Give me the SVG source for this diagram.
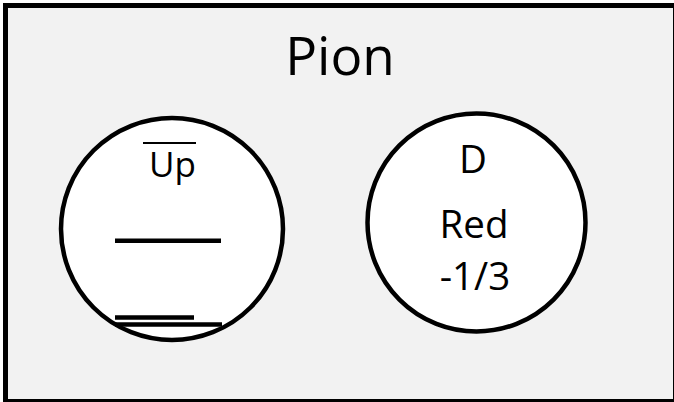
<svg xmlns="http://www.w3.org/2000/svg" width="674" height="402" viewBox="0 0 674 402">
<style>
.frame{fill:#f2f2f2;stroke:#000;stroke-width:5}
.q{fill:#fff;stroke:#000;stroke-width:4.5}
.t{font-family:"Open Sans","Noto Sans","Liberation Sans",sans-serif;fill:#000;text-anchor:middle}
.bar{stroke:#000;stroke-width:4.5;stroke-linecap:butt}
</style>
<g id="pion">
<rect class="frame" x="5.5" y="5.5" width="670" height="396"/>
<text class="t" x="340" y="74.5" font-size="53">Pion</text>
</g>
<g id="anti-up">
<circle class="q" cx="172" cy="229" r="111"/>
<text class="t" x="172.5" y="176.7" font-size="35">Up</text>
<line x1="143" y1="143" x2="196" y2="143" stroke="#000" stroke-width="2"/>
<line class="bar" x1="115" y1="240.7" x2="221" y2="240.7"/>
<line class="bar" x1="115" y1="317.5" x2="194" y2="317.5"/>
<line class="bar" x1="115" y1="324.5" x2="222" y2="324.5"/>
</g>
<g id="down">
<circle class="q" cx="476.5" cy="222.5" r="109"/>
<text class="t" x="473" y="172.7" font-size="38.5">D</text>
<text class="t" x="474" y="238.3" font-size="38.5">Red</text>
<text class="t" x="475" y="289.5" font-size="38.5">-1/3</text>
</g>
<g id="connectors"/>
</svg>
